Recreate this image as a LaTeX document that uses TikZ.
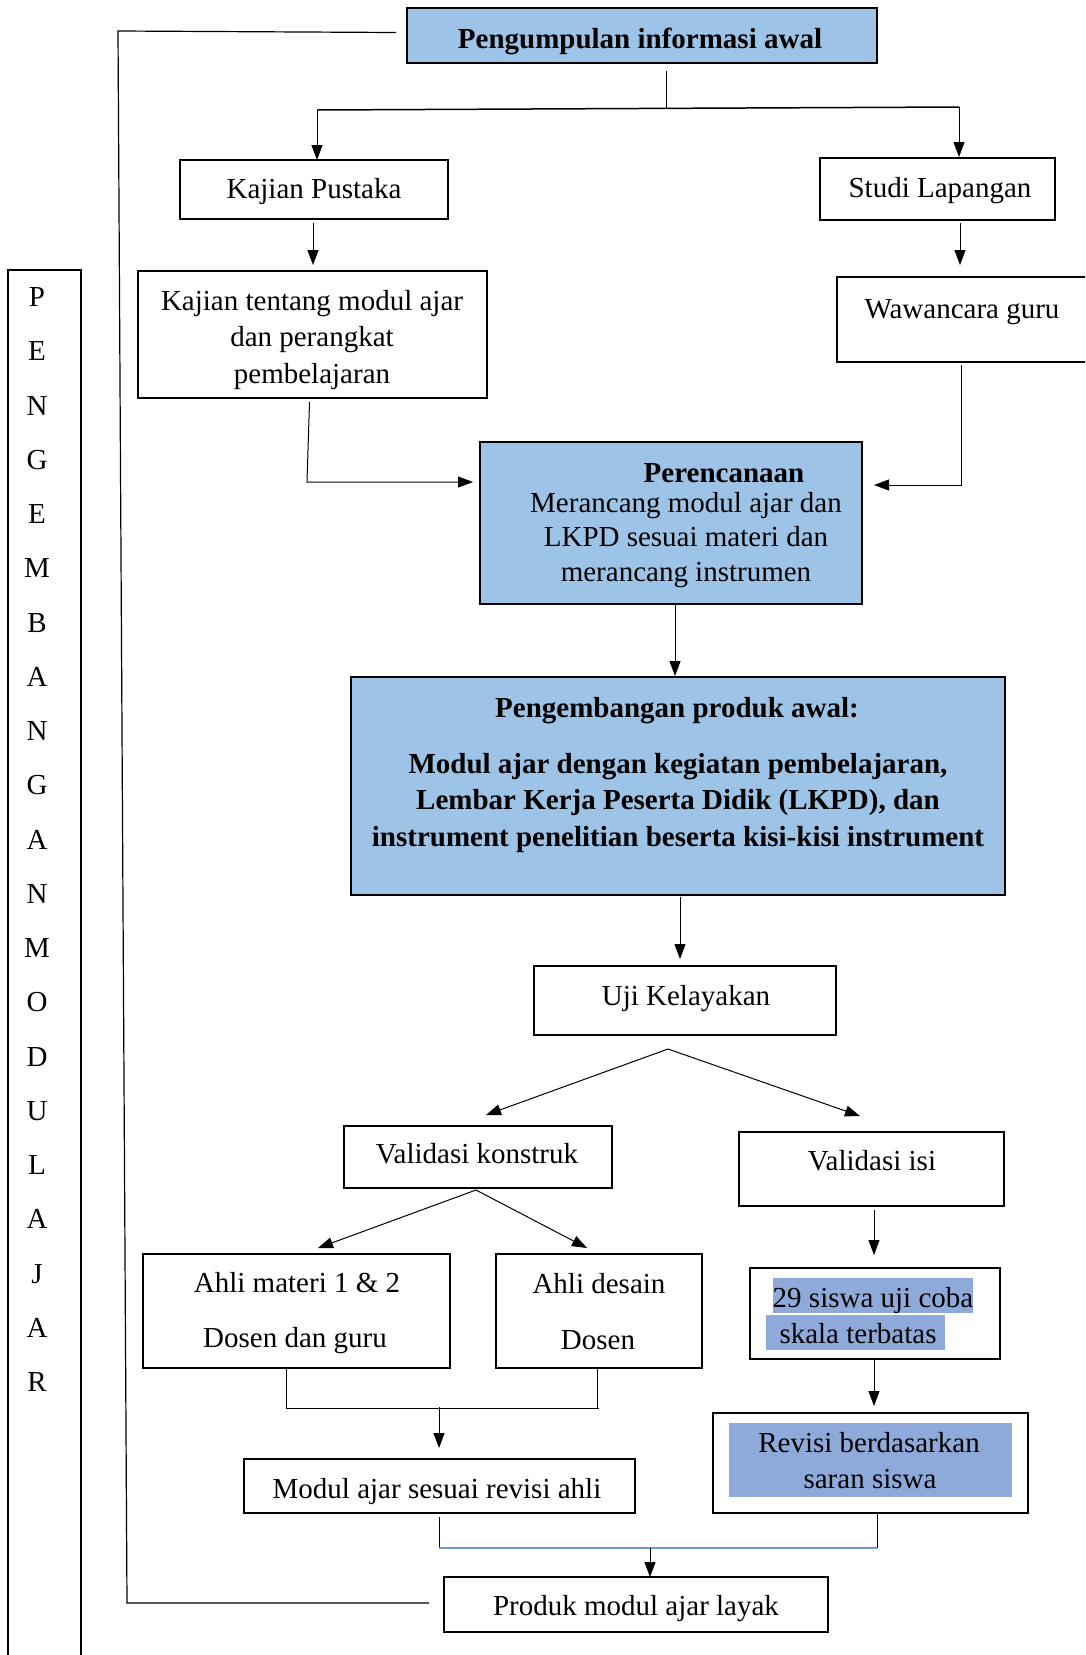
\documentclass[tikz,border=0pt]{standalone}
\usepackage{fontspec}
\setmainfont{Liberation Serif}
\usetikzlibrary{arrows.meta,calc}
\definecolor{fillblue}{HTML}{9DC3E6}
\definecolor{hlblue}{HTML}{8EAADB}
\definecolor{lineblue}{HTML}{7499D6}
\tikzset{
 box/.style={draw=black, line width=1.6pt, inner sep=0pt, outer sep=0pt, anchor=north west},
 bluebox/.style={box, fill=fillblue},
 hlbox/.style={fill=hlblue, inner sep=0pt, outer sep=0pt, anchor=north west},
 txt/.style={inner sep=0pt, font=\fontsize{29}{36.5}\selectfont, text height=23pt, text depth=3pt},
 btxt/.style={txt, font=\fontsize{29}{36.5}\selectfont\bfseries},
 mtxt/.style={inner sep=0pt, align=center, font=\fontsize{29}{36.5}\selectfont},
 mbtxt/.style={inner sep=0pt, align=center, font=\fontsize{29}{36.5}\selectfont\bfseries},
 ln/.style={draw=black, line width=1pt},
 arr/.style={ln, -{Triangle[length=15pt,width=11pt]}},
}
\newcommand\bx[6]{\node[#6, minimum width={(#4-#2)*1pt}, minimum height={(#5-#3)*1pt}] (#1) at (#2,#3) {};}
\begin{document}
\begin{tikzpicture}[x=1pt,y=-1pt]
\path[use as bounding box, clip] (0,0) rectangle (1085,1655);
\fill[white] (0,0) rectangle (1085,1655);

% boxes
\bx{top}{407}{8}{877}{63}{bluebox}
\bx{kp}{180}{160}{448}{219}{box}
\bx{st}{820}{158}{1055}{220}{box}
\bx{kt}{138}{271}{487}{398}{box}
\bx{ww}{837}{277}{1100}{362}{box}
\bx{per}{480}{442}{862}{604}{bluebox}
\bx{peng}{351}{677}{1005}{895}{bluebox}
\bx{uji}{534}{966}{836}{1035}{box}
\bx{vk}{344}{1126}{612}{1188}{box}
\bx{vi}{739}{1132}{1004}{1206}{box}
\bx{am}{143}{1254}{450}{1368}{box}
\bx{ad}{496}{1254}{702}{1368}{box}
\bx{sis}{750}{1268}{1000}{1359}{box}
\bx{rev}{713}{1413}{1028}{1513}{box}
\bx{mod}{244}{1459}{635}{1513}{box}
\bx{prod}{444}{1577}{828}{1632}{box}
\bx{side}{8}{270}{81}{1700}{box}

% highlights
\bx{hl1}{773}{1278}{973}{1313}{hlbox}
\bx{hl2}{766}{1315}{945}{1350}{hlbox}
\bx{hl3}{729}{1423}{1012}{1497}{hlbox}

% texts
\node[btxt] (t-top) at (640,38) {Pengumpulan informasi awal};
\node[txt] (t-kp) at (314,188) {Kajian Pustaka};
\node[txt] (t-st) at (940,187) {Studi Lapangan};
\node[mtxt] (t-kt) at (312,340) {Kajian tentang modul ajar\\dan perangkat\\pembelajaran};
\node[txt] (t-ww) at (962,308) {Wawancara guru};
\node[btxt] (t-per) at (724,472) {Perencanaan};
\node[mtxt, font=\fontsize{29}{34.5}\selectfont] (t-per2) at (686,540) {Merancang modul ajar dan\\LKPD sesuai materi dan\\merancang instrumen};
\node[btxt] (t-peng) at (677,707) {Pengembangan produk awal:};
\node[mbtxt] (t-peng2) at (678,803) {Modul ajar dengan kegiatan pembelajaran,\\Lembar Kerja Peserta Didik (LKPD), dan\\instrument penelitian beserta kisi-kisi instrument};
\node[txt] (t-uji) at (686,995) {Uji Kelayakan};
\node[txt] (t-vk) at (477,1153) {Validasi konstruk};
\node[txt] (t-vi) at (872,1160) {Validasi isi};
\node[txt] (t-am1) at (297,1282) {Ahli materi 1 \& 2};
\node[txt] (t-am2) at (295,1337) {Dosen dan guru};
\node[txt] (t-ad1) at (599,1283) {Ahli desain};
\node[txt] (t-ad2) at (598,1339) {Dosen};
\node[txt] (t-s1) at (873,1297) {29 siswa uji coba};
\node[txt] (t-s2) at (858,1333) {skala terbatas};
\node[txt] (t-r1) at (869,1442) {Revisi berdasarkan};
\node[txt] (t-r2) at (870,1478) {saran siswa};
\node[txt] (t-mod) at (437,1488) {Modul ajar sesuai revisi ahli};
\node[txt] (t-prod) at (636,1605) {Produk modul ajar layak};

\foreach \l [count=\i] in {P,E,N,G,E,M,B,A,N,G,A,N,M,O,D,U,L,A,J,A,R}
  \node[txt] (L\i) at (37,{296.6+(\i-1)*54.25}) {\l};

% outer left bracket line
\draw[ln, line width=1.2pt] ($(top.west)+(-11,-3)$) -- (118,31) -- (127,1603) -- ($(prod.west)+(-15,-1.5)$);

% top split
\coordinate (jl) at (317,110);
\coordinate (jr) at (959,107);
\draw[ln] ($(top.south)+(24,8)$) -- (666,109);
\draw[ln, line width=1.5pt] (jl) -- (jr);
\draw[arr] (jl) -- (jl |- kp.north);
\draw[arr] (jr) -- ($(jr |- st.north)+(0,-1)$);

\draw[arr] (313,223) -- (313,265);
\draw[arr] (960,223) -- (960,265);

% to Perencanaan
\draw[arr] ($(kt.south)+(-3,4)$) -- (307,482) -- ($(per.west |- 0,482)+(-7,0)$);
\draw[arr] (961,365) -- (961,485) -- ($(per.east |- 0,485)+(12,0)$);

\draw[arr] ($(per.south)+(4,0)$) -- ($(peng.north)+(-3,-1)$);
\draw[arr] ($(peng.south)+(2,2)$) -- (680,959);

% Uji split
\coordinate (ua) at (668,1049);
\draw[arr] (ua) -- (486,1115);
\draw[arr] (ua) -- (860,1116);

% VK split
\coordinate (va) at (476,1190);
\draw[arr] (va) -- (318,1248);
\draw[arr] (va) -- (587,1248);

\draw[arr] (874,1210) -- (874,1255);
\draw[arr] (874,1359) -- (874,1406);

% merge ahli
\draw[ln] (286,1368) -- (286,1408) -- (599,1408);
\draw[ln] (597,1368) -- (597,1408);
\draw[arr] (439,1407) -- (439,1448);

% final merge
\draw[ln] (439,1517) -- (439,1548);
\draw[ln] (877,1513) -- (877,1548);
\draw[draw=lineblue, line width=1.5pt] (439,1548) -- (877,1548);
\draw[arr] (650,1548) -- (650,1577);
\end{tikzpicture}
\end{document}
